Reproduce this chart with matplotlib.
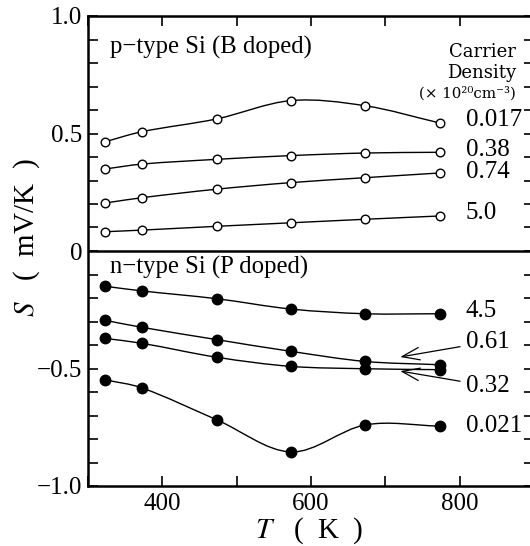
import numpy as np
import matplotlib
matplotlib.use('Agg')
import matplotlib.pyplot as plt
from matplotlib.path import Path
from matplotlib.patches import PathPatch
from matplotlib.ticker import MultipleLocator, FixedLocator, FixedFormatter

plt.rcParams['font.family'] = ['Liberation Serif', 'DejaVu Serif']
plt.rcParams['mathtext.fontset'] = 'stix'

# temperature (K)
T = [323, 373, 473, 573, 673, 773]

# p-type Si (B doped), S in mV/K
p_labels = ["0.017", "0.38", "0.74", "5.0"]
p_017 = [0.465, 0.508, 0.562, 0.640, 0.618, 0.545]
p_38 = [0.349, 0.370, 0.390, 0.406, 0.417, 0.420]
p_74 = [0.204, 0.227, 0.263, 0.291, 0.312, 0.332]
p_50 = [0.082, 0.089, 0.105, 0.120, 0.135, 0.149]
p_label_y = [0.557, 0.430, 0.336, 0.162]

# n-type Si (P doped)
n_labels = ["4.5", "0.61", "0.32", "0.021"]
n_45 = [-0.150, -0.170, -0.203, -0.247, -0.267, -0.267]
n_61 = [-0.295, -0.325, -0.377, -0.427, -0.470, -0.484]
n_32 = [-0.372, -0.393, -0.452, -0.491, -0.501, -0.505]
n_021 = [-0.548, -0.583, -0.718, -0.855, -0.740, -0.745]
n_label_y = [-0.255, -0.387, -0.574, -0.745]

xtick_pos = [400, 600, 800]
xtick_labels = ["400", "600", "800"]
ytick_pos = [-1.0, -0.5, 0.0, 0.5, 1.0]
ytick_labels = ["\u22121.0", "\u22120.5", "0", "0.5", "1.0"]


def smooth_path(x, y):
    # cubic bezier through the points (catmull-rom style tangents)
    x = np.asarray(x, float)
    y = np.asarray(y, float)
    m = np.empty(len(x))
    m[1:-1] = (y[2:] - y[:-2]) / (x[2:] - x[:-2])
    m[0] = (y[1] - y[0]) / (x[1] - x[0])
    m[-1] = (y[-1] - y[-2]) / (x[-1] - x[-2])
    verts = [(x[0], y[0])]
    codes = [Path.MOVETO]
    for i in range(len(x) - 1):
        h = x[i + 1] - x[i]
        verts += [(x[i] + h / 3, y[i] + m[i] * h / 3),
                  (x[i + 1] - h / 3, y[i + 1] - m[i + 1] * h / 3),
                  (x[i + 1], y[i + 1])]
        codes += [Path.CURVE4] * 3
    return Path(verts, codes)


W, H = 530, 546
fig = plt.figure(figsize=(W / 100, H / 100), dpi=100)
ax = fig.add_axes([88 / W, 1 - 486 / H, (534 - 88) / W, (486 - 16) / H])
ax.set_xlim(300, 900)
ax.set_ylim(-1.0, 1.0)

for s in [p_017, p_38, p_74, p_50]:
    ax.add_patch(PathPatch(smooth_path(T, s), fill=False, lw=1.0, color='k'))
    ax.plot(T, s, 'o', ms=6.2, mfc='white', mec='k', mew=1.0, zorder=3)

for s in [n_45, n_61, n_32, n_021]:
    ax.add_patch(PathPatch(smooth_path(T, s), fill=False, lw=1.0, color='k'))
    ax.plot(T, s, 'o', ms=7.5, color='k', zorder=3)

ax.axhline(0, color='k', lw=1.8)

for lab, yv in zip(p_labels, p_label_y):
    ax.text(808, yv, lab, fontsize=18, va='center', ha='left')
for lab, yv in zip(n_labels, n_label_y):
    if lab in ("0.61", "0.32"):
        continue
    ax.text(808, yv, lab, fontsize=18, va='center', ha='left')

arrow = dict(arrowstyle='->,head_length=0.7,head_width=0.25',
             color='k', lw=0.9, shrinkA=2, shrinkB=0)
ax.annotate("0.61", xy=(720, -0.451), xytext=(808, -0.387), fontsize=18,
            va='center', ha='left', arrowprops=arrow)
ax.annotate("0.32", xy=(720, -0.511), xytext=(808, -0.574), fontsize=18,
            va='center', ha='left', arrowprops=arrow)

ax.text(330, 0.868, "p\u2212type Si (B doped)", fontsize=17.8, va='center', ha='left')
ax.text(330, -0.072, "n\u2212type Si (P doped)", fontsize=17.8, va='center', ha='left')

ax.text(876, 0.847, "Carrier", fontsize=13, family='DejaVu Serif', va='center', ha='right')
ax.text(876, 0.757, "Density", fontsize=13, family='DejaVu Serif', va='center', ha='right')
ax.text(876, 0.672, "(\u00d7 10\u00b2\u2070cm\u207b\u00b3)", fontsize=10.8,
        family='DejaVu Serif', va='center', ha='right')

ax.xaxis.set_major_locator(FixedLocator(xtick_pos))
ax.xaxis.set_major_formatter(FixedFormatter(xtick_labels))
ax.xaxis.set_minor_locator(MultipleLocator(100))
ax.yaxis.set_major_locator(FixedLocator(ytick_pos))
ax.yaxis.set_major_formatter(FixedFormatter(ytick_labels))
ax.yaxis.set_minor_locator(MultipleLocator(0.1))
ax.tick_params(which='both', direction='in', top=True, right=True,
               length=7, width=1.2, labelsize=18)
ax.tick_params(axis='y', pad=4)
ax.tick_params(axis='x', pad=5)
for sp in ax.spines.values():
    sp.set_linewidth(1.8)

fig.text(27 / W, 1 - 238 / H, "$S$   (  mV/K  )", fontsize=21, rotation=90,
         va='center', ha='center')
fig.text(309 / W, 1 - 531 / H, "$T$   (  K  )", fontsize=21, va='center', ha='center')

fig.savefig('out.png', dpi=100)
